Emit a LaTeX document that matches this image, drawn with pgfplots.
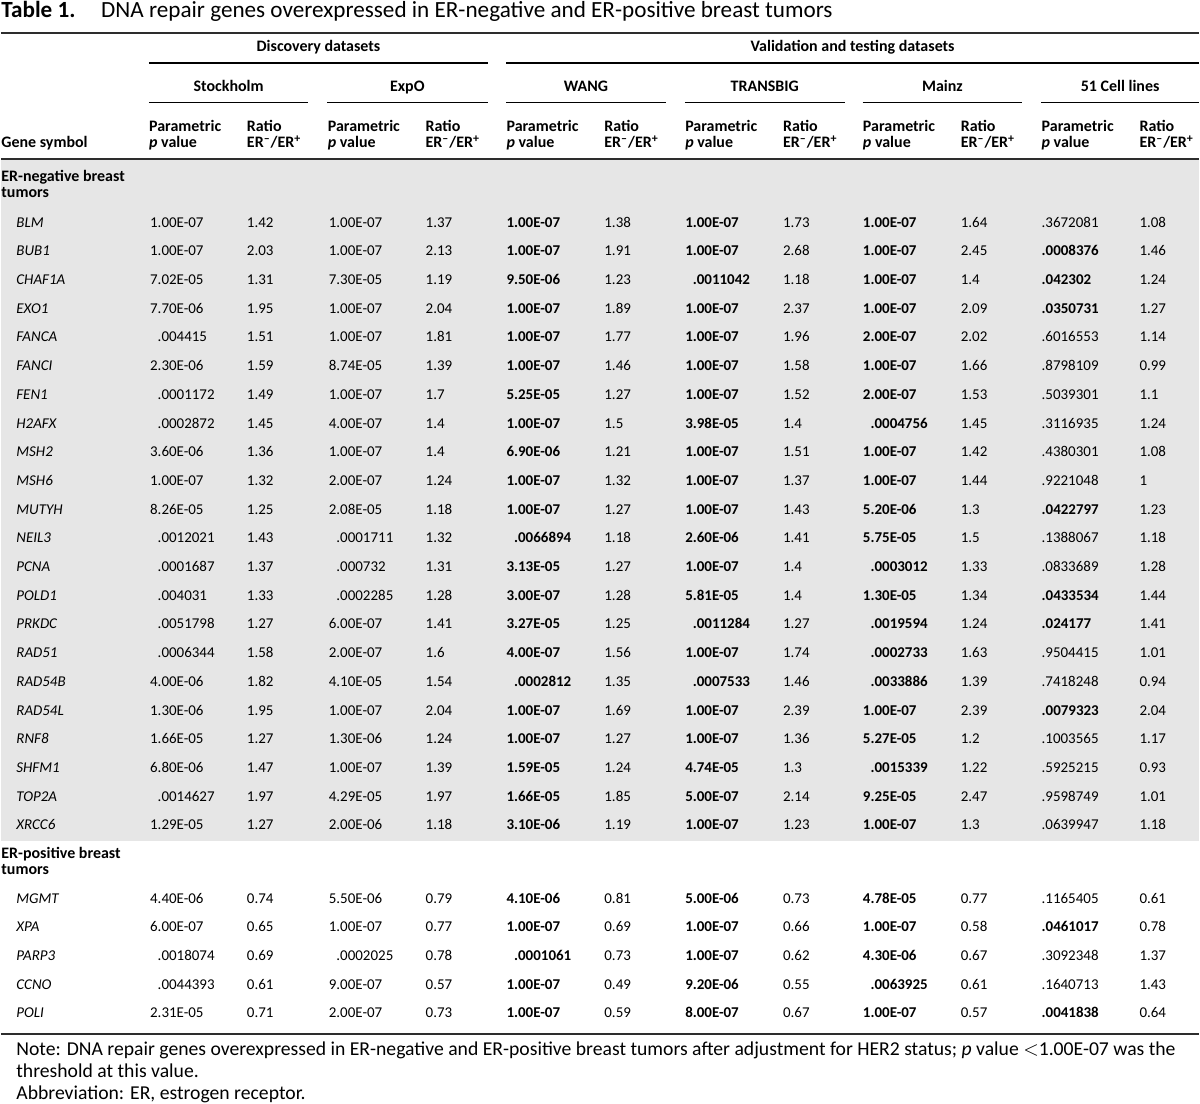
\documentclass[border=0pt]{standalone}
\usepackage{fontspec}
\setmainfont{Carlito}
\usepackage{pgfplots}
\pgfplotsset{compat=1.18}
\usepackage{pgfplotstable}
\definecolor{band}{RGB}{230,230,230}
\definecolor{rule}{RGB}{45,45,45}

% P = pad to align the decimal point, B = bold (significant cell-line value)
\protected\def\P{\phantom{1}}
\protected\def\B#1{\textbf{#1}}
\newcommand\bodysize{\fontsize{7.5}{9}\selectfont}
\newcommand\headsize{\fontsize{8}{9}\selectfont}

\pgfplotstableread{
gene   p1        r1   p2        r2   p3        r3   p4        r4   p5        r5   p6           r6
BLM    1.00E-07  1.42 1.00E-07  1.37 1.00E-07  1.38 1.00E-07  1.73 1.00E-07  1.64 .3672081     1.08
BUB1   1.00E-07  2.03 1.00E-07  2.13 1.00E-07  1.91 1.00E-07  2.68 1.00E-07  2.45 \B{.0008376} 1.46
CHAF1A 7.02E-05  1.31 7.30E-05  1.19 9.50E-06  1.23 \P.0011042 1.18 1.00E-07 1.4  \B{.042302}  1.24
EXO1   7.70E-06  1.95 1.00E-07  2.04 1.00E-07  1.89 1.00E-07  2.37 1.00E-07  2.09 \B{.0350731} 1.27
FANCA  \P.004415 1.51 1.00E-07  1.81 1.00E-07  1.77 1.00E-07  1.96 2.00E-07  2.02 .6016553     1.14
FANCI  2.30E-06  1.59 8.74E-05  1.39 1.00E-07  1.46 1.00E-07  1.58 1.00E-07  1.66 .8798109     0.99
FEN1   \P.0001172 1.49 1.00E-07 1.7  5.25E-05  1.27 1.00E-07  1.52 2.00E-07  1.53 .5039301     1.1
H2AFX  \P.0002872 1.45 4.00E-07 1.4  1.00E-07  1.5  3.98E-05  1.4  \P.0004756 1.45 .3116935    1.24
MSH2   3.60E-06  1.36 1.00E-07  1.4  6.90E-06  1.21 1.00E-07  1.51 1.00E-07  1.42 .4380301     1.08
MSH6   1.00E-07  1.32 2.00E-07  1.24 1.00E-07  1.32 1.00E-07  1.37 1.00E-07  1.44 .9221048     1
MUTYH  8.26E-05  1.25 2.08E-05  1.18 1.00E-07  1.27 1.00E-07  1.43 5.20E-06  1.3  \B{.0422797} 1.23
NEIL3  \P.0012021 1.43 \P.0001711 1.32 \P.0066894 1.18 2.60E-06 1.41 5.75E-05 1.5 .1388067    1.18
PCNA   \P.0001687 1.37 \P.000732 1.31 3.13E-05 1.27 1.00E-07 1.4 \P.0003012 1.33 .0833689     1.28
POLD1  \P.004031 1.33 \P.0002285 1.28 3.00E-07 1.28 5.81E-05 1.4 1.30E-05 1.34 \B{.0433534}  1.44
PRKDC  \P.0051798 1.27 6.00E-07 1.41 3.27E-05 1.25 \P.0011284 1.27 \P.0019594 1.24 \B{.024177} 1.41
RAD51  \P.0006344 1.58 2.00E-07 1.6 4.00E-07 1.56 1.00E-07 1.74 \P.0002733 1.63 .9504415     1.01
RAD54B 4.00E-06  1.82 4.10E-05  1.54 \P.0002812 1.35 \P.0007533 1.46 \P.0033886 1.39 .7418248 0.94
RAD54L 1.30E-06  1.95 1.00E-07  2.04 1.00E-07  1.69 1.00E-07  2.39 1.00E-07  2.39 \B{.0079323} 2.04
RNF8   1.66E-05  1.27 1.30E-06  1.24 1.00E-07  1.27 1.00E-07  1.36 5.27E-05  1.2  .1003565     1.17
SHFM1  6.80E-06  1.47 1.00E-07  1.39 1.59E-05  1.24 4.74E-05  1.3  \P.0015339 1.22 .5925215    0.93
TOP2A  \P.0014627 1.97 4.29E-05 1.97 1.66E-05  1.85 5.00E-07  2.14 9.25E-05  2.47 .9598749     1.01
XRCC6  1.29E-05  1.27 2.00E-06  1.18 3.10E-06  1.19 1.00E-07  1.23 1.00E-07  1.3  .0639947     1.18
}\erneg

\pgfplotstableread{
gene   p1        r1   p2        r2   p3        r3   p4        r4   p5        r5   p6           r6
MGMT   4.40E-06  0.74 5.50E-06  0.79 4.10E-06  0.81 5.00E-06  0.73 4.78E-05  0.77 .1165405     0.61
XPA    6.00E-07  0.65 1.00E-07  0.77 1.00E-07  0.69 1.00E-07  0.66 1.00E-07  0.58 \B{.0461017} 0.78
PARP3  \P.0018074 0.69 \P.0002025 0.78 \P.0001061 0.73 1.00E-07 0.62 4.30E-06 0.67 .3092348    1.37
CCNO   \P.0044393 0.61 9.00E-07 0.57 1.00E-07  0.49 9.20E-06  0.55 \P.0063925 0.61 .1640713    1.43
POLI   2.31E-05  0.71 2.00E-07  0.73 1.00E-07  0.59 8.00E-07  0.67 1.00E-07  0.57 \B{.0041838} 0.64
}\erpos

\pgfplotsset{
  cell/.style={draw=none, mark=none, nodes near coords, point meta=explicit symbolic,
    every node near coord/.append style={anchor=base west, inner sep=0pt, text=black, font=\bodysize}},
  bcell/.style={cell, every node near coord/.append style={font=\bodysize\bfseries}},
  icell/.style={cell, every node near coord/.append style={font=\bodysize\itshape}},
}
\tikzset{
  hd/.style={anchor=base west, inner sep=0pt, font=\headsize\bfseries},
  hdc/.style={anchor=base, inner sep=0pt, font=\headsize\bfseries},
  nt/.style={anchor=base west, inner sep=0pt, font=\fontsize{9.85}{11}\selectfont},
}

\begin{document}
\bodysize
\begin{tikzpicture}
\begin{axis}[
  width=600pt, height=552.5pt, scale only axis,
  xmin=0, xmax=1200, ymin=0, ymax=1105, y dir=reverse,
  hide axis, clip=false,
]
\fill[white] (axis cs:0,0) rectangle (axis cs:1200,1105);
\fill[band] (axis cs:0,160) rectangle (axis cs:1200,842);

% title
\node[anchor=base west, inner sep=0pt, font=\fontsize{11.6}{13}\selectfont\bfseries] at (axis cs:0,18) {Table 1.};
\node[anchor=base west, inner sep=0pt, font=\fontsize{11.6}{13}\selectfont] at (axis cs:100,18) {DNA repair genes overexpressed in ER-negative and ER-positive breast tumors};

% rules
\draw[rule, line width=1pt] (axis cs:0,33) -- (axis cs:1200,33);
\draw[rule, line width=1pt] (axis cs:0,159) -- (axis cs:1200,159);
\draw[rule, line width=1pt] (axis cs:0,1036) -- (axis cs:1200,1036);
\draw[black, line width=0.6pt] (axis cs:148,63) -- (axis cs:488,63);
\draw[black, line width=0.6pt] (axis cs:506,63) -- (axis cs:1200,63);
\draw[black, line width=0.6pt] (axis cs:148,103) -- (axis cs:308,103);
\draw[black, line width=0.6pt] (axis cs:327,103) -- (axis cs:488,103);
\draw[black, line width=0.6pt] (axis cs:506,103) -- (axis cs:666,103);
\draw[black, line width=0.6pt] (axis cs:685,103) -- (axis cs:845,103);
\draw[black, line width=0.6pt] (axis cs:863,103) -- (axis cs:1023,103);
\draw[black, line width=0.6pt] (axis cs:1042,103) -- (axis cs:1200,103);

% header
\node[hdc] at (axis cs:318,52) {Discovery datasets};
\node[hdc] at (axis cs:853,52) {Validation and testing datasets};
\node[hdc] at (axis cs:228,92) {Stockholm};
\node[hdc] at (axis cs:407,92) {ExpO};
\node[hdc] at (axis cs:586,92) {WANG};
\node[hdc] at (axis cs:765,92) {TRANSBIG};
\node[hdc] at (axis cs:943,92) {Mainz};
\node[hdc] at (axis cs:1121,92) {51 Cell lines};
\node[hd] at (axis cs:0,148) {Gene symbol};
\pgfplotsinvokeforeach{148,327,506,685,863,1042}{
  \node[hd] at (axis cs:#1,132) {Parametric};
  \node[hd] at (axis cs:#1,148) {\textit{p} value};
}
\pgfplotsinvokeforeach{246,425,604,783,961,1140}{
  \node[hd] at (axis cs:#1,132) {Ratio};
  \node[hd] at (axis cs:#1,148) {ER\textsuperscript{–}/ER\textsuperscript{+}};
}

% group labels
\node[hd] at (axis cs:0,182) {ER-negative breast};
\node[hd] at (axis cs:0,198) {tumors};
\node[hd] at (axis cs:0,860) {ER-positive breast};
\node[hd] at (axis cs:0,876) {tumors};

% ER-negative rows
\addplot[icell] table[x expr=15,   y expr=227.5+28.75*\coordindex, meta=gene] {\erneg};
\addplot[cell]  table[x expr=149,  y expr=227.5+28.75*\coordindex, meta=p1] {\erneg};
\addplot[cell]  table[x expr=246,  y expr=227.5+28.75*\coordindex, meta=r1] {\erneg};
\addplot[cell]  table[x expr=328,  y expr=227.5+28.75*\coordindex, meta=p2] {\erneg};
\addplot[cell]  table[x expr=425,  y expr=227.5+28.75*\coordindex, meta=r2] {\erneg};
\addplot[bcell] table[x expr=506,  y expr=227.5+28.75*\coordindex, meta=p3] {\erneg};
\addplot[cell]  table[x expr=604,  y expr=227.5+28.75*\coordindex, meta=r3] {\erneg};
\addplot[bcell] table[x expr=685,  y expr=227.5+28.75*\coordindex, meta=p4] {\erneg};
\addplot[cell]  table[x expr=783,  y expr=227.5+28.75*\coordindex, meta=r4] {\erneg};
\addplot[bcell] table[x expr=863,  y expr=227.5+28.75*\coordindex, meta=p5] {\erneg};
\addplot[cell]  table[x expr=961,  y expr=227.5+28.75*\coordindex, meta=r5] {\erneg};
\addplot[cell]  table[x expr=1042, y expr=227.5+28.75*\coordindex, meta=p6] {\erneg};
\addplot[cell]  table[x expr=1140, y expr=227.5+28.75*\coordindex, meta=r6] {\erneg};

% ER-positive rows
\addplot[icell] table[x expr=15,   y expr=904.5+28.75*\coordindex, meta=gene] {\erpos};
\addplot[cell]  table[x expr=149,  y expr=904.5+28.75*\coordindex, meta=p1] {\erpos};
\addplot[cell]  table[x expr=246,  y expr=904.5+28.75*\coordindex, meta=r1] {\erpos};
\addplot[cell]  table[x expr=328,  y expr=904.5+28.75*\coordindex, meta=p2] {\erpos};
\addplot[cell]  table[x expr=425,  y expr=904.5+28.75*\coordindex, meta=r2] {\erpos};
\addplot[bcell] table[x expr=506,  y expr=904.5+28.75*\coordindex, meta=p3] {\erpos};
\addplot[cell]  table[x expr=604,  y expr=904.5+28.75*\coordindex, meta=r3] {\erpos};
\addplot[bcell] table[x expr=685,  y expr=904.5+28.75*\coordindex, meta=p4] {\erpos};
\addplot[cell]  table[x expr=783,  y expr=904.5+28.75*\coordindex, meta=r4] {\erpos};
\addplot[bcell] table[x expr=863,  y expr=904.5+28.75*\coordindex, meta=p5] {\erpos};
\addplot[cell]  table[x expr=961,  y expr=904.5+28.75*\coordindex, meta=r5] {\erpos};
\addplot[cell]  table[x expr=1042, y expr=904.5+28.75*\coordindex, meta=p6] {\erpos};
\addplot[cell]  table[x expr=1140, y expr=904.5+28.75*\coordindex, meta=r6] {\erpos};

% notes
\node[nt] at (axis cs:15,1057) {Note: DNA repair genes overexpressed in ER-negative and ER-positive breast tumors after adjustment for HER2 status; \textit{p} value $<$1.00E-07 was the};
\node[nt] at (axis cs:15,1079) {threshold at this value.};
\node[nt] at (axis cs:15,1101) {Abbreviation: ER, estrogen receptor.};
\end{axis}
\end{tikzpicture}
\end{document}
